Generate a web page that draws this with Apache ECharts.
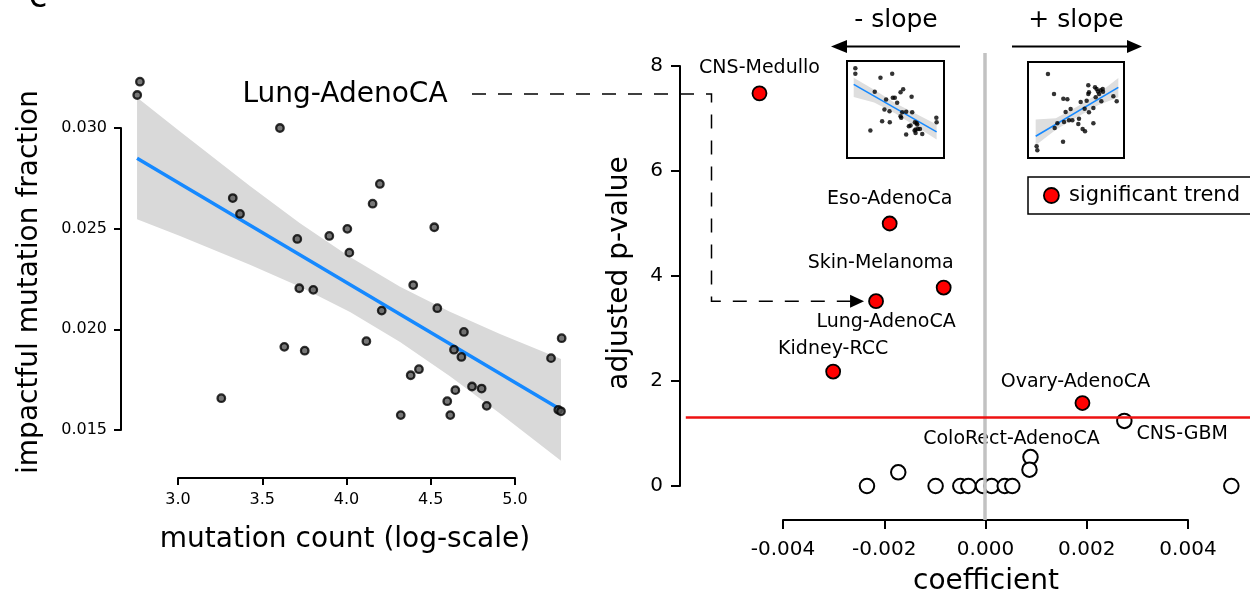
<!DOCTYPE html>
<html>
<head>
<meta charset="utf-8">
<script src="https://cdn.jsdelivr.net/npm/echarts@6/dist/echarts.min.js"></script>
<style>
html, body { margin: 0; padding: 0; background: #fff; }
#chart { width: 1250px; height: 600px; }
</style>
</head>
<body>
<div id="chart"></div>
<script>
// ---- left panel: Lung-AdenoCA samples ----
var mutCount = [2.774, 2.758, 3.605, 3.325, 3.368, 3.708, 3.898, 4.005, 4.017, 4.198, 4.155, 3.720, 3.803, 3.631, 3.752, 4.118, 3.257, 4.521, 4.396, 4.209, 4.539, 4.697, 4.638, 4.682, 5.214, 5.277, 4.381, 4.430, 4.646, 4.745, 4.802, 4.598, 4.832, 4.322, 4.616, 5.257, 5.273];
var impactFrac = [0.03230, 0.03164, 0.03000, 0.02652, 0.02573, 0.02449, 0.02464, 0.02499, 0.02381, 0.02722, 0.02624, 0.02204, 0.02196, 0.01913, 0.01894, 0.01941, 0.01658, 0.02507, 0.02220, 0.02093, 0.02105, 0.01987, 0.01899, 0.01863, 0.01857, 0.01956, 0.01772, 0.01802, 0.01698, 0.01716, 0.01706, 0.01643, 0.01620, 0.01574, 0.01574, 0.01600, 0.01593];
var fitX = [2.757, 5.273];
var fitY = [0.0285, 0.0160];
var bandX = [2.757, 3.012, 3.427, 3.724, 4.021, 4.318, 4.614, 4.911, 5.273];
var bandLow = [0.02547, 0.02463, 0.02321, 0.02211, 0.02086, 0.01937, 0.01767, 0.01582, 0.01347];
var bandHigh = [0.03152, 0.02983, 0.02712, 0.02527, 0.02359, 0.02212, 0.02087, 0.01977, 0.01853];

// ---- right panel: regression coefficient vs adjusted p-value ----
var sigNames = ['CNS-Medullo', 'Eso-AdenoCa', 'Skin-Melanoma', 'Lung-AdenoCA', 'Kidney-RCC', 'Ovary-AdenoCA'];
var sigCoef = [-0.00446, -0.00188, -0.00081, -0.00215, -0.00300, 0.00194];
var sigPval = [7.48, 5.00, 3.78, 3.52, 2.18, 1.58];
var otherNames = ['', '', '', '', '', '', '', '', '', 'ColoRect-AdenoCA', '', 'CNS-GBM', ''];
var otherCoef = [-0.00233, -0.00171, -0.00097, -0.00048, -0.00032, -0.00003, 0.00014, 0.00040, 0.00055, 0.00091, 0.00089, 0.00277, 0.00489];
var otherPval = [0, 0.26, 0, 0, 0, 0, 0, 0, 0, 0.55, 0.31, 1.24, 0];
var sigThreshold = 1.301;

// ---- inset sketches ----
var negInsetX = [8.6, 8.6, 34.5, 46.6, 28.6, 55.2, 57.9, 66.6, 40.3, 47.2, 49.3, 51.7, 38.6, 43.8, 56.9, 61.0, 67.2, 55.2, 55.9, 36.2, 44.1, 24.1, 61.0, 63.8, 65.5, 70.0, 69.7, 70.7, 73.1, 75.2, 77.6, 72.4, 71.7, 92.1, 92.4, 70.7];
var negInsetY = [92.4, 86.9, 82.8, 86.9, 68.3, 67.9, 71.0, 63.1, 60.3, 62.1, 62.1, 56.9, 50.0, 48.3, 47.2, 47.6, 47.2, 43.1, 41.4, 37.9, 36.9, 28.3, 24.1, 32.8, 33.4, 36.9, 28.3, 25.9, 30.0, 30.0, 24.8, 34.5, 36.2, 41.4, 36.9, 29.3];
var negFitX = [6.9, 92.4];
var negFitY = [75.9, 26.9];
var negBandX = [6.9, 28, 50, 72, 92.4];
var negBandLow = [62.8, 57.3, 46, 32, 19.0];
var negBandHigh = [82.8, 70.3, 56.5, 45, 34.5];

var posInsetX = [20.8, 27.1, 36.8, 41.0, 62.8, 63.5, 62.8, 69.8, 71.5, 72.9, 75.7, 77.8, 78.1, 74.0, 76.4, 70.5, 88.9, 92.4, 54.9, 61.1, 44.4, 39.2, 68.1, 59.0, 63.5, 53.1, 46.2, 42.7, 37.5, 30.6, 27.8, 52.4, 56.9, 59.4, 68.1, 36.5, 9.0, 9.7];
var posInsetY = [87.5, 66.7, 61.8, 61.1, 75.7, 68.4, 66.7, 73.6, 71.9, 69.4, 70.5, 71.9, 69.1, 66.7, 59.0, 63.2, 64.2, 59.0, 58.3, 59.7, 51.0, 47.9, 52.1, 51.4, 47.6, 41.0, 39.2, 39.2, 37.5, 36.1, 31.3, 35.4, 30.2, 27.8, 36.1, 17.0, 12.2, 8.0];
var posFitX = [8.0, 94.1];
var posFitY = [22.6, 73.6];
var posBandX = [8.0, 29, 51, 73, 94.1];
var posBandLow = [13.2, 29.5, 42.5, 55, 63.2];
var posBandHigh = [40, 41.5, 53.5, 67, 83.3];

var FONT = 'DejaVu Sans';
var BLUE = '#1689ff';

function pairs(xs, ys) {
  return xs.map(function (x, i) { return [x, ys[i]]; });
}

// confidence band drawn as one polygon through the axis scales
function bandSeries(xs, lo, hi, idx, color) {
  return {
    type: 'custom', xAxisIndex: idx, yAxisIndex: idx, z: 1, silent: true,
    data: xs.map(function (x, i) { return [x, lo[i], hi[i]]; }),
    encode: { x: 0, y: [1, 2] },
    renderItem: function (params, api) {
      if (params.dataIndex !== 0) return;
      var pts = [];
      for (var i = 0; i < xs.length; i++) pts.push(api.coord([xs[i], hi[i]]));
      for (var j = xs.length - 1; j >= 0; j--) pts.push(api.coord([xs[j], lo[j]]));
      return { type: 'polygon', shape: { points: pts }, style: { fill: color } };
    }
  };
}

function hiddenAxis(min, max, idx) {
  return { type: 'value', gridIndex: idx, min: min, max: max, show: false };
}

function shownAxis(idx, min, max, interval, fontSize, tickLen, margin, digits) {
  return {
    type: 'value', gridIndex: idx, min: min, max: max, interval: interval,
    axisLine: { show: true, lineStyle: { color: '#000', width: 2 } },
    axisTick: { show: true, length: tickLen, lineStyle: { color: '#000', width: 2 } },
    splitLine: { show: false },
    axisLabel: {
      color: '#000', fontSize: fontSize, fontFamily: FONT, margin: margin,
      formatter: function (v) { return digits == null ? String(v) : v.toFixed(digits); }
    }
  };
}

var labelStyle = {
  'CNS-Medullo': { position: 'top', distance: 8 },
  'Eso-AdenoCa': { position: 'top', distance: 7 },
  'Skin-Melanoma': { position: 'top', distance: 7, offset: [-63, 0] },
  'Lung-AdenoCA': { position: 'bottom', distance: 3, offset: [10, 0] },
  'Kidney-RCC': { position: 'top', distance: 5 },
  'Ovary-AdenoCA': { position: 'top', distance: 4, offset: [-7, 0] },
  'ColoRect-AdenoCA': { position: 'top', distance: 0, offset: [-19, 0] },
  'CNS-GBM': { position: 'right', distance: 4, offset: [0, 13] }
};

function pointData(names, xs, ys) {
  return xs.map(function (x, i) {
    var item = { name: names[i], value: [x, ys[i]] };
    var ls = labelStyle[names[i]];
    if (ls) {
      item.label = Object.assign({ show: true, formatter: '{b}', color: '#000', fontSize: 19, fontFamily: FONT }, ls);
    }
    return item;
  });
}

var chart = echarts.init(document.getElementById('chart'));

var option = {
  animation: false,
  textStyle: { fontFamily: FONT },
  grid: [
    { left: 127.45, top: 67.6, width: 441.45, height: 402.67 },   // 0 left data
    { left: 178, top: 470, width: 337, height: 8 },               // 1 left x axis
    { left: 121, top: 128, width: 10, height: 302 },              // 2 left y axis
    { left: 685.8, top: 52.9, width: 566, height: 467.2 },        // 3 right data
    { left: 783, top: 510, width: 405, height: 10 },              // 4 right x axis
    { left: 680, top: 66, width: 10, height: 420 },               // 5 right y axis
    { left: 847, top: 61, width: 97, height: 97, show: true, borderColor: '#000', borderWidth: 2, backgroundColor: '#fff' },
    { left: 1028, top: 62, width: 96, height: 96, show: true, borderColor: '#000', borderWidth: 2, backgroundColor: '#fff' }
  ],
  xAxis: [
    hiddenAxis(2.70, 5.32, 0),
    shownAxis(1, 3, 5, 0.5, 16, 7, 14, 1),
    hiddenAxis(0, 1, 2),
    hiddenAxis(-0.00592, 0.00526, 3),
    shownAxis(4, -0.004, 0.004, 0.002, 20, 9, 20, 3),
    hiddenAxis(0, 1, 5),
    hiddenAxis(0, 100, 6),
    hiddenAxis(0, 100, 7)
  ],
  yAxis: [
    hiddenAxis(0.0130, 0.0330, 0),
    hiddenAxis(0, 1, 1),
    shownAxis(2, 0.015, 0.030, 0.005, 16, 7, 14, 3),
    hiddenAxis(-0.65, 8.25, 3),
    hiddenAxis(0, 1, 4),
    shownAxis(5, 0, 8, 2, 20, 9, 17, null),
    hiddenAxis(0, 100, 6),
    hiddenAxis(0, 100, 7)
  ],
  legend: {
    data: ['significant trend'],
    left: 1028, top: 177,
    borderColor: '#000', borderWidth: 1.5, borderRadius: 0,
    padding: [8, 30, 8, 15],
    icon: 'circle', itemWidth: 15, itemHeight: 15,
    itemStyle: { borderColor: '#000', borderWidth: 1.8 },
    textStyle: { color: '#000', fontSize: 21, fontFamily: FONT, padding: [0, 0, 0, 5] }
  },
  series: [
    // left panel
    bandSeries(bandX, bandLow, bandHigh, 0, '#d9d9d9'),
    {
      type: 'line', xAxisIndex: 0, yAxisIndex: 0, z: 2, silent: true,
      data: pairs(fitX, fitY), symbol: 'none',
      lineStyle: { color: BLUE, width: 3.5 }
    },
    {
      type: 'scatter', xAxisIndex: 0, yAxisIndex: 0, z: 3,
      data: pairs(mutCount, impactFrac), symbolSize: 7.5,
      itemStyle: { color: '#555', borderColor: '#000', borderWidth: 2.3 }
    },
    // right panel reference lines
    {
      type: 'scatter', xAxisIndex: 3, yAxisIndex: 3, z: 1, data: [],
      markLine: {
        silent: true, symbol: 'none', animation: false, label: { show: false },
        data: [
          { xAxis: 0, lineStyle: { color: '#c2c2c2', width: 3.5, type: 'solid' } },
          { yAxis: sigThreshold, lineStyle: { color: '#ee1111', width: 2.5, type: 'solid' } }
        ]
      }
    },
    {
      type: 'scatter', name: 'other', xAxisIndex: 3, yAxisIndex: 3, z: 3,
      data: pointData(otherNames, otherCoef, otherPval), symbolSize: 14.5,
      itemStyle: { color: '#fff', borderColor: '#000', borderWidth: 2, opacity: 1 }
    },
    {
      type: 'scatter', name: 'significant trend', xAxisIndex: 3, yAxisIndex: 3, z: 4,
      data: pointData(sigNames, sigCoef, sigPval), symbolSize: 14,
      itemStyle: { color: '#ff0000', borderColor: '#000', borderWidth: 1.8, opacity: 1 }
    },
    // insets
    bandSeries(negBandX, negBandLow, negBandHigh, 6, '#dedede'),
    {
      type: 'line', xAxisIndex: 6, yAxisIndex: 6, z: 2, silent: true,
      data: pairs(negFitX, negFitY), symbol: 'none',
      lineStyle: { color: BLUE, width: 1.6 }
    },
    {
      type: 'scatter', xAxisIndex: 6, yAxisIndex: 6, z: 3, silent: true,
      data: pairs(negInsetX, negInsetY), symbolSize: 4.5, itemStyle: { color: '#000' }
    },
    bandSeries(posBandX, posBandLow, posBandHigh, 7, '#dedede'),
    {
      type: 'line', xAxisIndex: 7, yAxisIndex: 7, z: 2, silent: true,
      data: pairs(posFitX, posFitY), symbol: 'none',
      lineStyle: { color: BLUE, width: 1.6 }
    },
    {
      type: 'scatter', xAxisIndex: 7, yAxisIndex: 7, z: 3, silent: true,
      data: pairs(posInsetX, posInsetY), symbolSize: 4.5, itemStyle: { color: '#000' }
    }
  ]
};

chart.setOption(option);

// annotations: titles, slope arrows and the dashed pointer to the Lung-AdenoCA point
var li = sigNames.indexOf('Lung-AdenoCA');
var lungPx = chart.convertToPixel({ xAxisIndex: 3, yAxisIndex: 3 }, [sigCoef[li], sigPval[li]]);
var tipX = lungPx[0] - 12, tipY = lungPx[1];
var dashStyle = { stroke: '#000', lineWidth: 1.5, lineDash: [14, 12], fill: null };

function txt(s, x, y, size, rot) {
  return {
    type: 'text', x: x, y: y, rotation: rot || 0, silent: true,
    style: { text: s, font: size + 'px "DejaVu Sans"', fill: '#000', textAlign: 'center', textVerticalAlign: 'middle' }
  };
}

chart.setOption({
  graphic: [
    txt('c', 38, -2, 34),
    txt('impactful mutation fraction', 30, 282, 28, Math.PI / 2),
    txt('mutation count (log-scale)', 345, 540, 28),
    txt('adjusted p-value', 620, 273, 28, Math.PI / 2),
    txt('coefficient', 986, 582, 28),
    txt('Lung-AdenoCA', 345, 95, 28),
    txt('- slope', 896, 20, 25),
    txt('+ slope', 1076, 20, 25),
    { type: 'polyline', silent: true, shape: { points: [[472, 94], [711.5, 94], [711.5, tipY], [tipX - 13, tipY]] }, style: dashStyle },
    { type: 'polygon', silent: true, shape: { points: [[tipX - 14, tipY - 6.5], [tipX, tipY], [tipX - 14, tipY + 6.5]] }, style: { fill: '#000' } },
    { type: 'line', silent: true, shape: { x1: 960, y1: 46.5, x2: 846, y2: 46.5 }, style: { stroke: '#000', lineWidth: 2 } },
    { type: 'polygon', silent: true, shape: { points: [[831, 46.5], [847, 40], [847, 53]] }, style: { fill: '#000' } },
    { type: 'line', silent: true, shape: { x1: 1012, y1: 46.5, x2: 1127, y2: 46.5 }, style: { stroke: '#000', lineWidth: 2 } },
    { type: 'polygon', silent: true, shape: { points: [[1142, 46.5], [1127, 40], [1127, 53]] }, style: { fill: '#000' } }
  ]
});
</script>
</body>
</html>
